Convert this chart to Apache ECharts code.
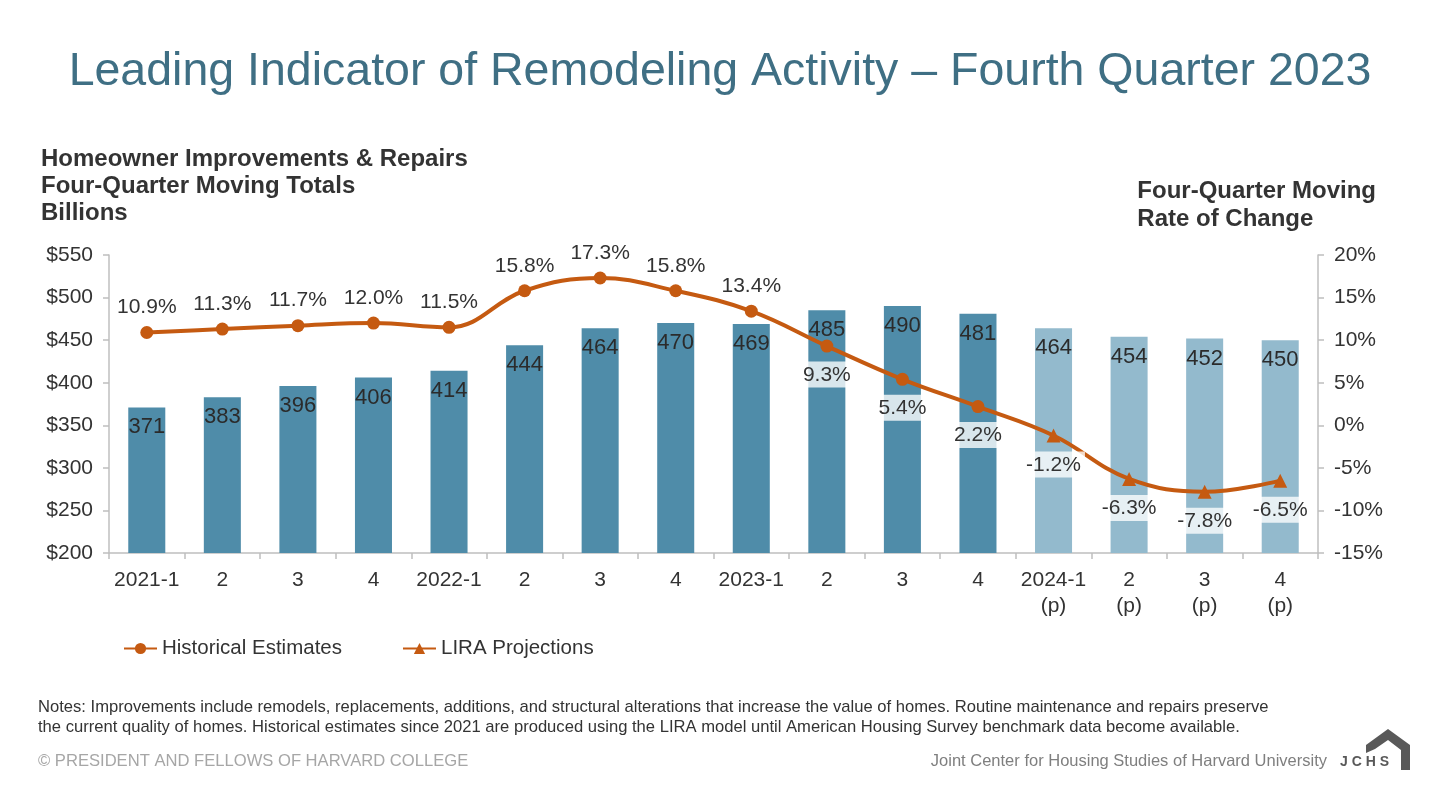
<!DOCTYPE html>
<html>
<head>
<meta charset="utf-8">
<script src="https://cdn.jsdelivr.net/npm/echarts@6/dist/echarts.min.js"></script>
<style>
html,body{margin:0;padding:0;background:#fff;}
#chart{width:1440px;height:787px;}
</style>
</head>
<body>
<div id="chart"></div>
<script>
// ---- data ----
const quarters = ['2021-1','2','3','4','2022-1','2','3','4','2023-1','2','3','4','2024-1\n(p)','2\n(p)','3\n(p)','4\n(p)'];
const periodType = ['h','h','h','h','h','h','h','h','h','h','h','h','p','p','p','p'];
const spending = [371,383,396,406,414,444,464,470,469,485,490,481,464,454,452,450];
const rateOfChange = [10.9,11.3,11.7,12.0,11.5,15.8,17.3,15.8,13.4,9.3,5.4,2.2,-1.2,-6.3,-7.8,-6.5];
const leftTicks = {min:200, max:550, interval:50};
const rightTicks = {min:-15, max:20, interval:5};

const FONT = '"Liberation Sans", Arial, sans-serif';
const BAR_H = '#4f8ca9';
const BAR_P = '#93bacd';
const LINE = '#c55a11';
const AXIS = '#bfbfbf';

const chart = echarts.init(document.getElementById('chart'), null, {renderer:'canvas'});

const barData = spending.map((v,i)=>({
  value:v,
  itemStyle:{color: periodType[i]==='p' ? BAR_P : BAR_H}
}));
const lineData = rateOfChange.map((v,i)=>{
  const below = v < 10;
  return {
    value:v,
    symbol: periodType[i]==='p' ? 'triangle' : 'circle',
    symbolSize: periodType[i]==='p' ? 14 : 13,
    label: below ? {
      position:'bottom', distance:9,
      backgroundColor:'rgba(255,255,255,0.78)', padding:[3,4,2,4]
    } : {position:'top', distance:8}
  };
});

const option = {
  backgroundColor:'#fff',
  animation:false,
  textStyle:{fontFamily:FONT},
  title:{
    text:'Leading Indicator of Remodeling Activity – Fourth Quarter 2023',
    left:'center', top:44,
    textStyle:{fontFamily:FONT, fontSize:46.5, fontWeight:'normal', color:'#3f6f84'}
  },
  legend:{
    left:118, top:633, itemWidth:33, itemHeight:14, itemGap:60,
    textStyle:{fontFamily:FONT, fontSize:20.5, color:'#333'},
    data:['Historical Estimates','LIRA Projections']
  },
  grid:{left:109, right:122, top:255, bottom:234},
  xAxis:{
    type:'category', data:quarters,
    axisLine:{onZero:false, lineStyle:{color:AXIS, width:1.5}},
    axisTick:{show:true, length:6, lineStyle:{color:AXIS, width:1.5}},
    axisLabel:{fontFamily:FONT, fontSize:21, color:'#333', margin:14, lineHeight:26, interval:0}
  },
  yAxis:[{
    type:'value', min:leftTicks.min, max:leftTicks.max, interval:leftTicks.interval,
    position:'left',
    axisLine:{show:true, lineStyle:{color:AXIS, width:1.5}},
    axisTick:{show:true, length:6, lineStyle:{color:AXIS, width:1.5}},
    splitLine:{show:false},
    axisLabel:{fontFamily:FONT, fontSize:21, color:'#333', margin:16, formatter:v=>'$'+v}
  },{
    type:'value', min:rightTicks.min, max:rightTicks.max, interval:rightTicks.interval,
    position:'right',
    axisLine:{show:true, lineStyle:{color:AXIS, width:1.5}},
    axisTick:{show:true, length:6, lineStyle:{color:AXIS, width:1.5}},
    splitLine:{show:false},
    axisLabel:{fontFamily:FONT, fontSize:21, color:'#333', margin:16, formatter:v=>v+'%'}
  }],
  series:[{
    name:'Spending', type:'bar', yAxisIndex:0, barWidth:'49%',
    data:barData,
    label:{show:true, position:'insideTop', distance:9, fontFamily:FONT, fontSize:22, color:'#2b2b2b'},
    z:1
  },{
    name:'Historical Estimates', type:'line', yAxisIndex:1, smooth:0.4,
    symbol:'circle', symbolSize:13,
    data:lineData,
    lineStyle:{color:LINE, width:4},
    itemStyle:{color:LINE},
    label:{show:true, fontFamily:FONT, fontSize:21, color:'#333', formatter:p=>p.value.toFixed(1)+'%'},
    z:3
  },{
    name:'LIRA Projections', type:'line', yAxisIndex:1,
    symbol:'triangle', symbolSize:14,
    data:[],
    lineStyle:{color:LINE, width:4},
    itemStyle:{color:LINE}
  }],
  graphic:[
    {type:'text', left:41, top:146, style:{
      text:'Homeowner Improvements & Repairs\nFour-Quarter Moving Totals\nBillions',
      font:'bold 24px '+FONT, fill:'#333', lineHeight:27}},
    {type:'text', right:64, top:177, style:{
      text:'Four-Quarter Moving\nRate of Change',
      font:'bold 24px '+FONT, fill:'#333', lineHeight:28, align:'right'}},
    {type:'text', left:38, top:697, style:{
      text:'Notes: Improvements include remodels, replacements, additions, and structural alterations that increase the value of homes. Routine maintenance and repairs preserve\nthe current quality of homes. Historical estimates since 2021 are produced using the LIRA model until American Housing Survey benchmark data become available.',
      font:'16.6px '+FONT, fill:'#333', lineHeight:20}},
    {type:'text', left:38, top:753, style:{
      text:'© PRESIDENT AND FELLOWS OF HARVARD COLLEGE',
      font:'16.6px '+FONT, fill:'#a6a6a6'}},
    {type:'text', right:113, top:753, style:{
      text:'Joint Center for Housing Studies of Harvard University',
      font:'16.5px '+FONT, fill:'#7f7f7f', align:'right'}},
    {type:'text', left:1340, top:755, style:{
      text:'J C H S', font:'bold 14px '+FONT, fill:'#595959'}},
    {type:'polygon', shape:{points:[[1366,745],[1388,729],[1410,745],[1410,770],[1401,770],[1401,750],[1388,740],[1375,749],[1366,753]]},
      style:{fill:'#595959'}}
  ]
};
chart.setOption(option);
</script>
</body>
</html>
